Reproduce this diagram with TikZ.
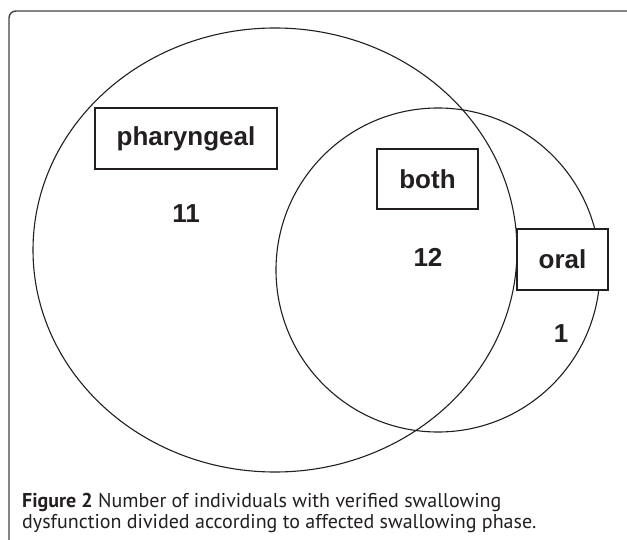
\documentclass[tikz,border=0pt]{standalone}
\usepackage{fontspec}
\setmainfont{Liberation Sans}
\newfontfamily\capfont{PT Sans}
\definecolor{ink}{HTML}{231F20}
\begin{document}
\begin{tikzpicture}[x=1pt,y=-1pt,
  setline/.style={draw=ink,line width=1.1pt},
  labelbox/.style={setline,fill=white,rectangle,inner sep=0pt,font=\fontsize{26}{30}\selectfont\bfseries,text=ink},
  numtext/.style={font=\fontsize{26}{30}\selectfont\bfseries,text=ink,inner sep=0pt}]
\useasboundingbox (0,0) rectangle (627,540);
\fill[white] (0,0) rectangle (627,540);
% frame
\coordinate (ftr) at (627,11);
\coordinate (fbl) at (9,540);
\draw[draw=ink!85,line width=1.4pt,rounded corners=7pt] (ftr) -- (9,11) -- (fbl);
% sets
\coordinate (cbig) at (275,250);
\coordinate (csmall) at (438,270);
\draw[setline] (cbig) ellipse [x radius=242, y radius=222];
\draw[setline] (csmall) circle [radius=162];
% labels
\node[labelbox,minimum width=182pt,minimum height=61pt] (phar) at (186,138.5) {pharyngeal};
\node[labelbox,minimum width=101pt,minimum height=60pt] (both) at (427.5,179) {both};
\node[labelbox,minimum width=91pt,minimum height=61pt] (oral) at (562.5,259.5) {oral};
\node[numtext] (n11) at (186,214) {11};
\node[numtext] (n12) at (428,257) {12};
\node[numtext] (n1) at (561,334) {1};
% caption
\node[anchor=base west,inner sep=0pt,text=ink,font=\capfont\fontsize{20}{22}\selectfont] (cap1) at (22,507) {\textbf{Figure 2} Number of individuals with verified swallowing};
\node[anchor=base west,inner sep=0pt,text=ink,font=\capfont\fontsize{20}{22}\selectfont] (cap2) at (22,528) {dysfunction divided according to affected swallowing phase.};
\end{tikzpicture}
\end{document}
